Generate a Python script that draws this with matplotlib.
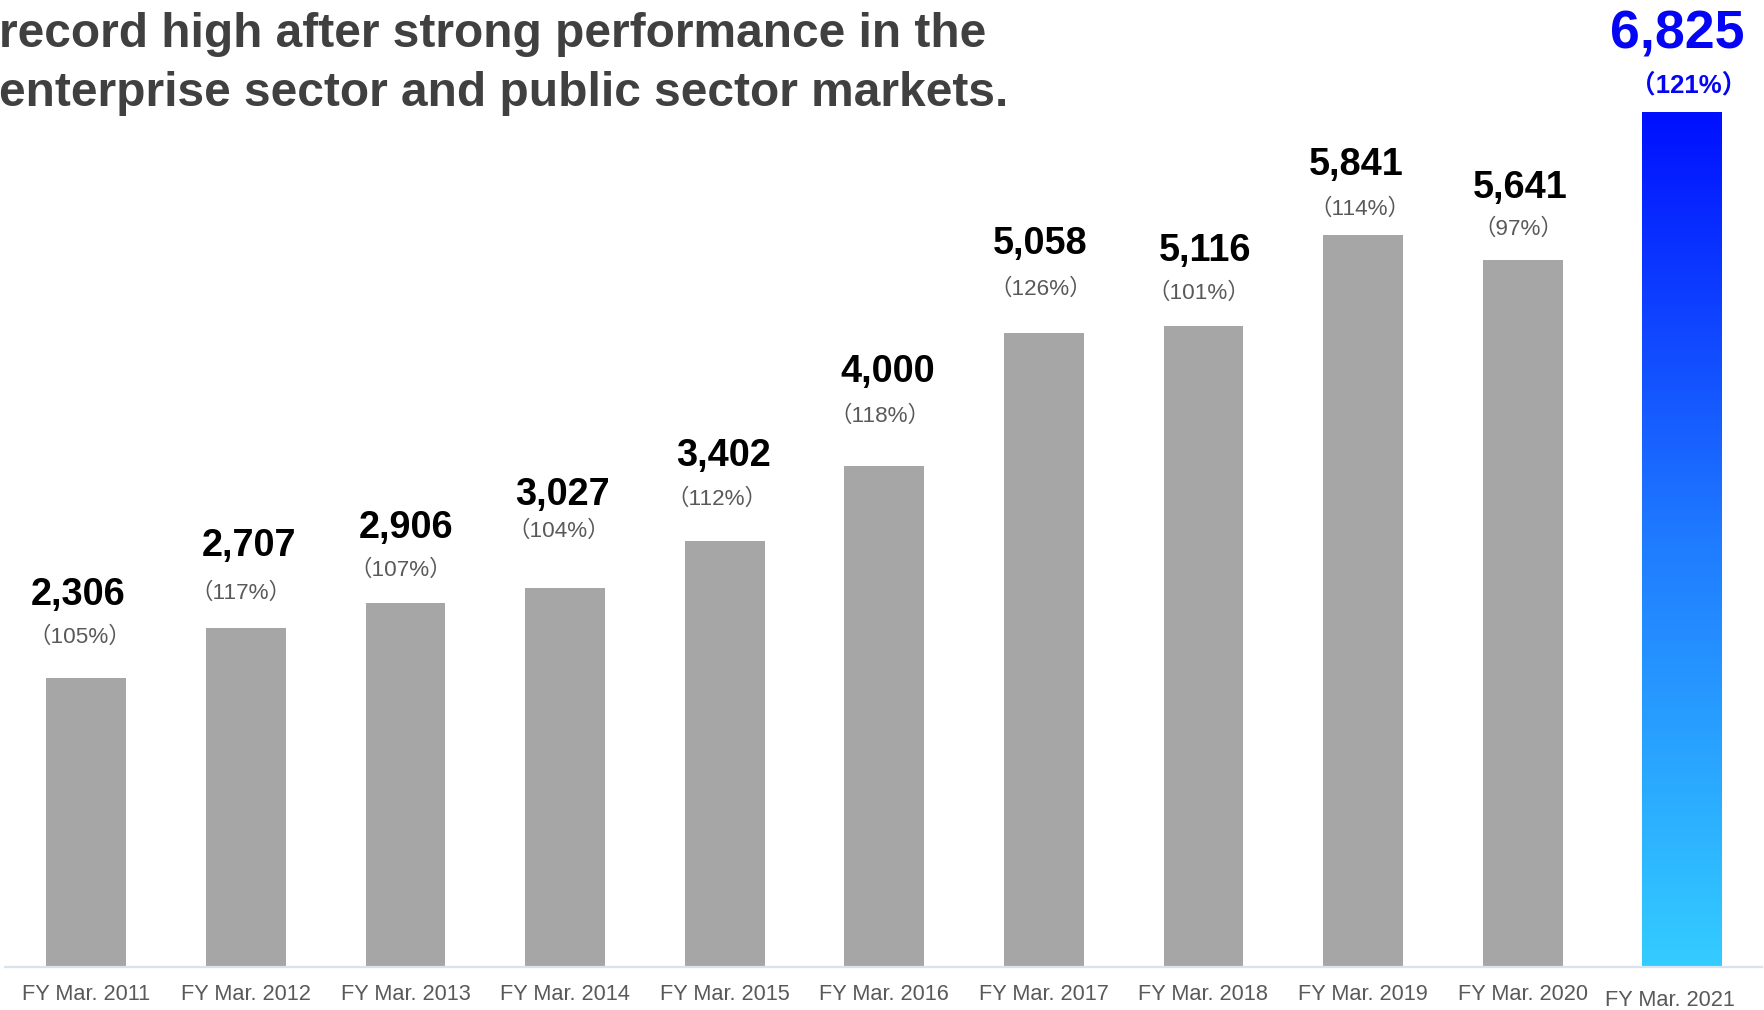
import numpy as np
import matplotlib.pyplot as plt
from matplotlib.transforms import ScaledTranslation
from matplotlib.colors import LinearSegmentedColormap

years = ["FY Mar. 2011", "FY Mar. 2012", "FY Mar. 2013", "FY Mar. 2014",
         "FY Mar. 2015", "FY Mar. 2016", "FY Mar. 2017", "FY Mar. 2018",
         "FY Mar. 2019", "FY Mar. 2020", "FY Mar. 2021"]
sales = [2306, 2707, 2906, 3027, 3402, 4000, 5058, 5116, 5841, 5641, 6825]
yoy_pct = [105, 117, 107, 104, 112, 118, 126, 101, 114, 97, 121]

title_lines = ["record high after strong performance in the",
               "enterprise sector and public sector markets."]

# label placement relative to each bar top (pixels)
value_gap = [73, 72, 65, 83, 75, 84, 79, 65, 60, 62, 63]
value_dx = [-8, 3, 1, -3, -1, 3, -4, 2, -7, -2, -5]
pct_gap = [41, 35, 33, 56, 41, 49, 44, 33, 26, 31, 26]
pct_dx = [-7, -5, -5, -6, -8, -4, -3, -5, -3, -4, 6]

latin = "Liberation Sans"
pct_font = ["Liberation Sans", "Noto Sans CJK JP"]

W, H, DPI = 1765, 1010, 100
fig = plt.figure(figsize=(W / DPI, H / DPI), dpi=DPI)
ax = fig.add_axes([5 / W, 1 - 967 / H, 1757 / W, 967 / H])

x = np.arange(len(sales))
bars = ax.bar(x, sales, width=0.5, color="#A6A6A6")

# last year gets a vertical blue gradient
last = bars[-1]
last.set_facecolor("none")
grad = LinearSegmentedColormap.from_list("bluegrad", ["#33CCFF", "#1F7BFF", "#0010FF"])
bx, by = last.get_x(), last.get_y()
img = ax.imshow(np.linspace(0, 1, 256).reshape(-1, 1), cmap=grad, origin="lower",
                aspect="auto", interpolation="bicubic",
                extent=(bx, bx + last.get_width(), by, by + last.get_height()), zorder=2)
img.set_clip_path(last)
ax.set_xlim(-0.51, 10.5)
ax.set_ylim(0, 7715)

px = 72 / DPI
for i, (v, p) in enumerate(zip(sales, yoy_pct)):
    final = i == len(sales) - 1
    ax.annotate(f"{v:,}", (x[i], v), xytext=(value_dx[i] * px, value_gap[i] * px),
                textcoords="offset points", ha="center", va="baseline",
                fontsize=38.6 if final else 27.3, fontweight="bold",
                color="#0505F5" if final else "black", family=latin)
    ax.annotate(f"（{p}%）", (x[i], v), xytext=(pct_dx[i] * px, pct_gap[i] * px),
                textcoords="offset points", ha="center", va="center",
                fontsize=18.5 if final else 16.2,
                fontweight="bold" if final else "normal",
                color="#0505F5" if final else "#595959", family=pct_font)

ax.set_xticks(x)
ax.set_xticklabels(years, fontsize=15.7, color="#595959", family=latin)
ax.tick_params(axis="x", length=0, pad=12)
ax.tick_params(axis="y", left=False, labelleft=False)
lab = ax.get_xticklabels()[-1]
lab.set_transform(lab.get_transform() + ScaledTranslation(-12 / DPI, -6 / DPI, fig.dpi_scale_trans))

for side in ["left", "right", "top"]:
    ax.spines[side].set_visible(False)
ax.spines["bottom"].set_color("#D9E3F0")
ax.spines["bottom"].set_linewidth(1.6)

for k, line in enumerate(title_lines):
    fig.text(-1 / W, 1 - (47 + 59 * k) / H, line, ha="left", va="baseline",
             fontsize=34.5, fontweight="bold", color="#404040", family=latin)

fig.savefig("out.png", dpi=DPI)
